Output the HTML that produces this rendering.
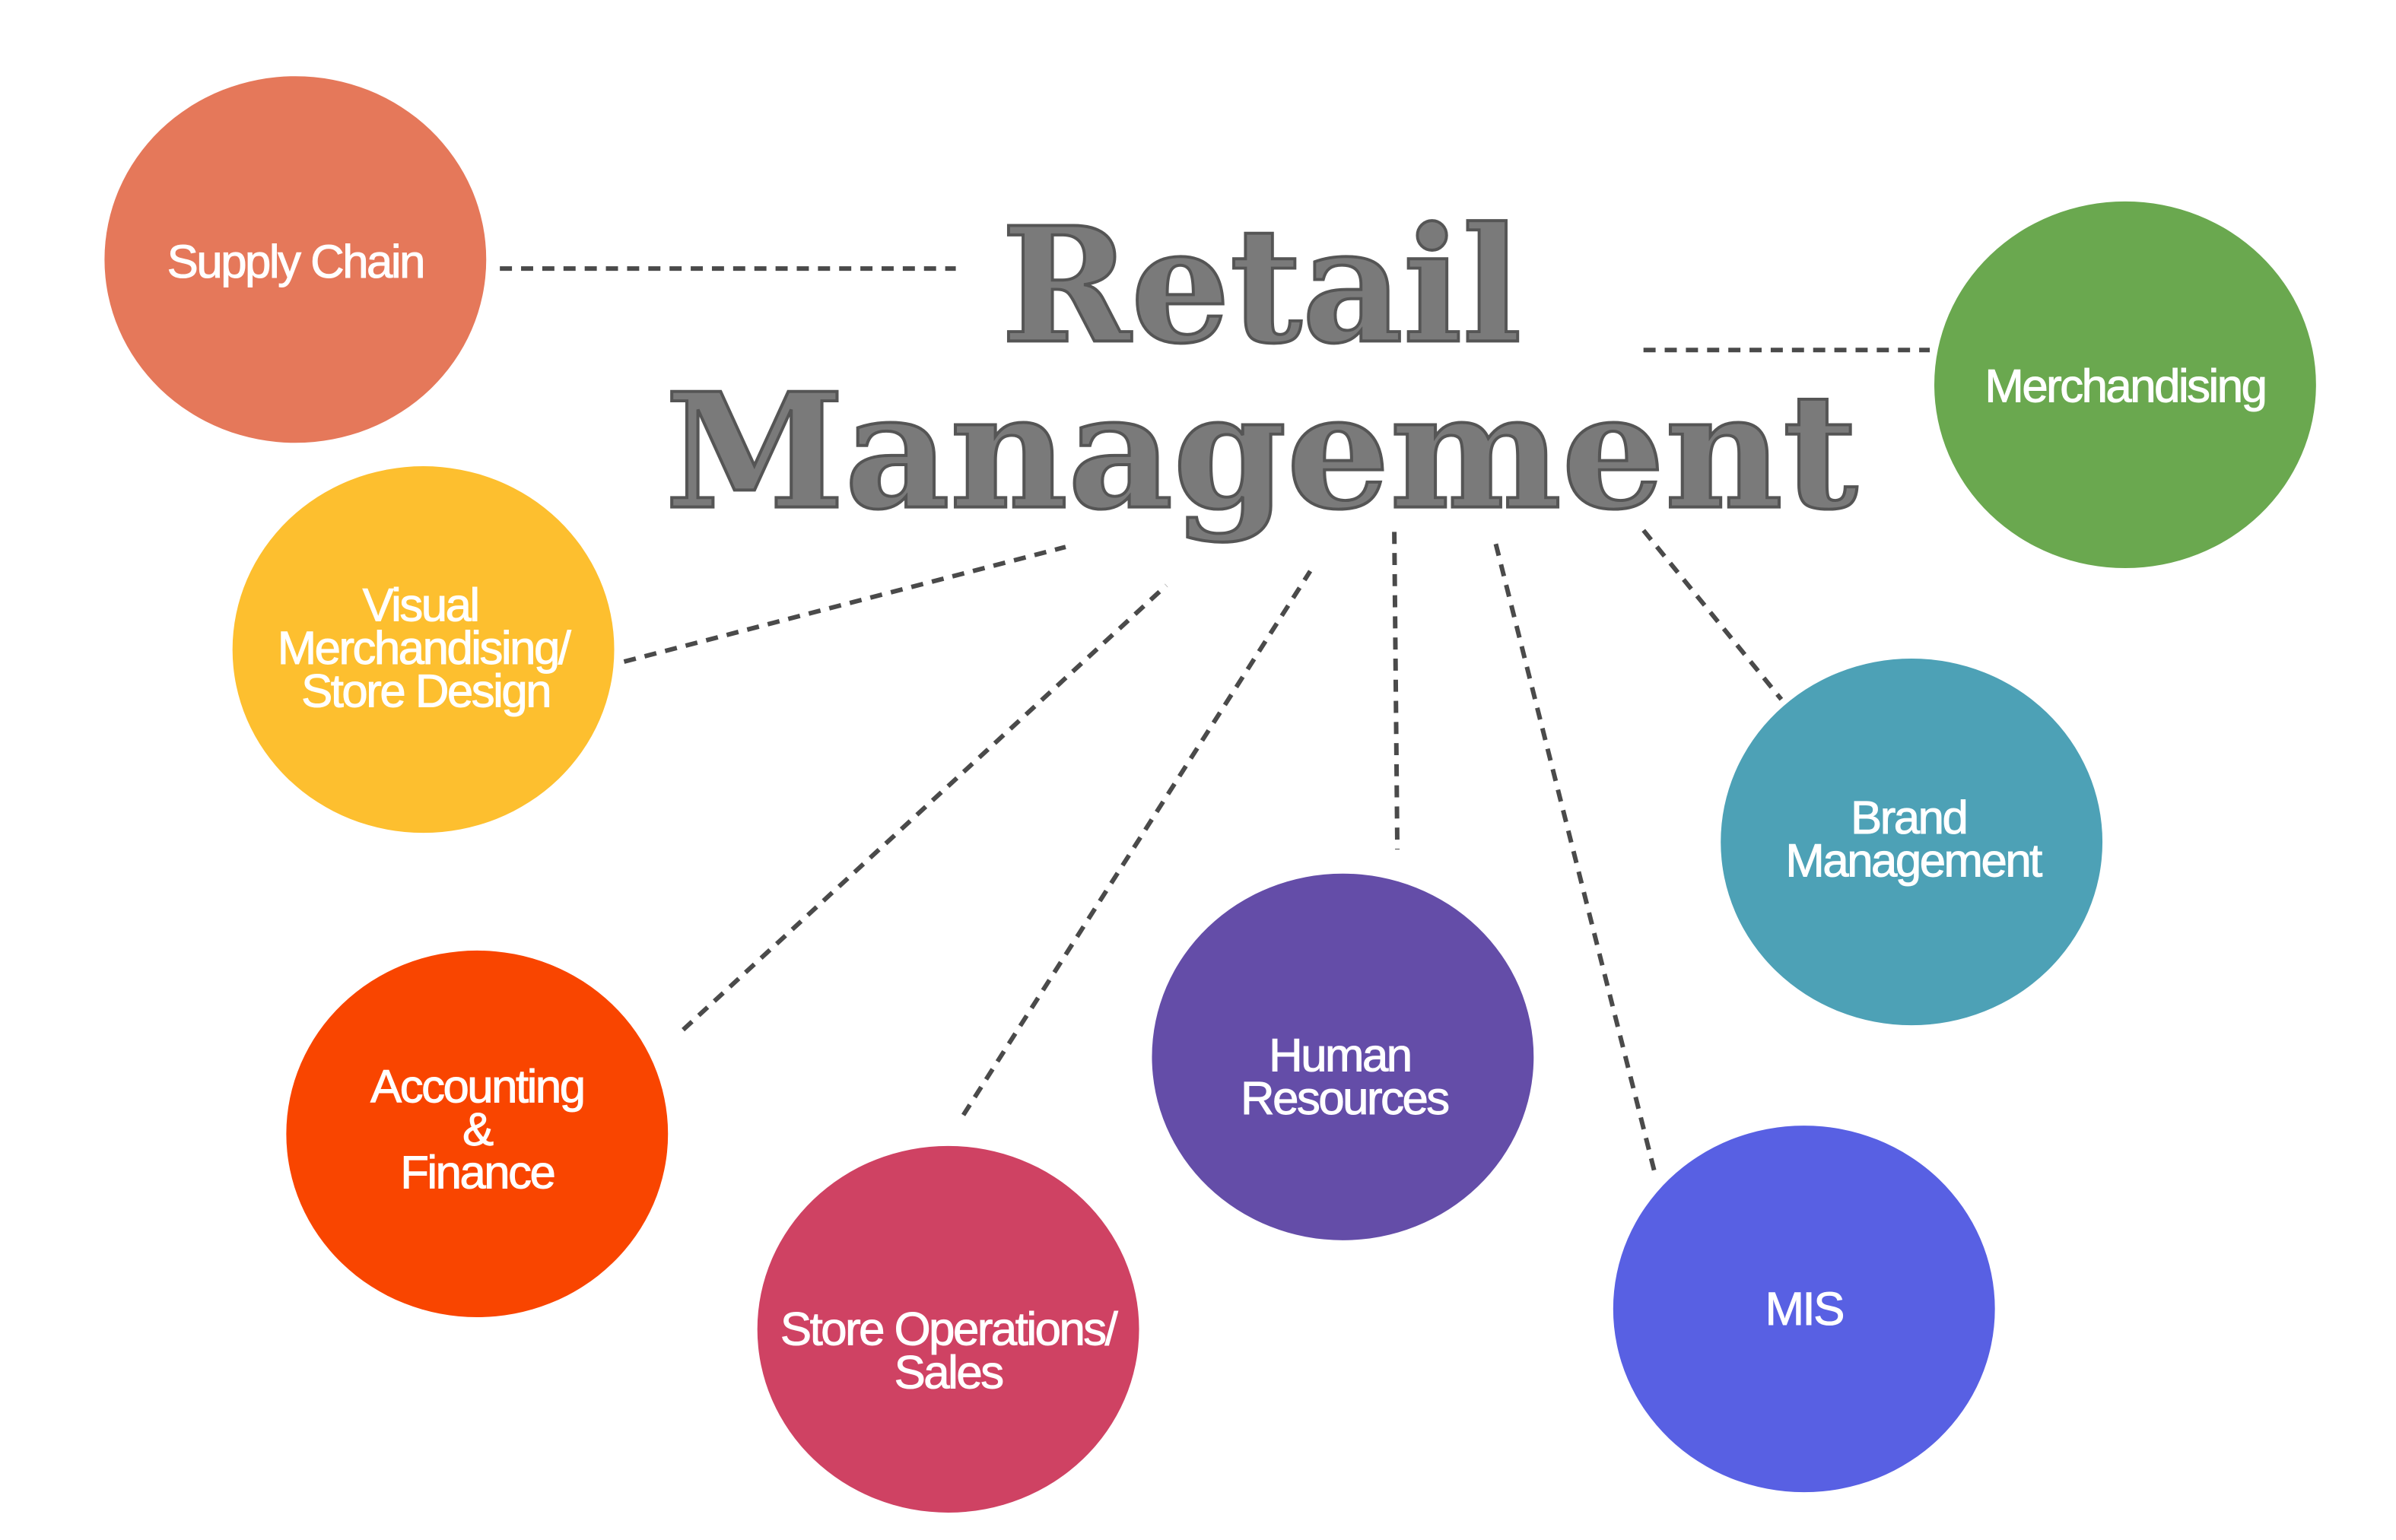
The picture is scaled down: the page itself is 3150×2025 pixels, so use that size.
<!DOCTYPE html>
<html><head><meta charset="utf-8"><style>html,body{margin:0;padding:0;background:#fff;}svg{display:block}</style></head>
<body>
<svg width="3150" height="2025" viewBox="0 0 3150 2025" xmlns="http://www.w3.org/2000/svg">
<g transform="scale(0.9957,0.992)">
<g stroke="#4a4a4a" stroke-width="6" stroke-dasharray="16 12" fill="none">
<line x1="660" y1="356" x2="1262" y2="356"/>
<line x1="2170" y1="464" x2="2548" y2="464"/>
<line x1="824" y1="877" x2="1407" y2="725"/>
<line x1="902" y1="1365" x2="1540" y2="776"/>
<line x1="1272" y1="1478" x2="1730" y2="757"/>
<line x1="1841" y1="705" x2="1845" y2="1126"/>
<line x1="1975" y1="721" x2="2185" y2="1555"/>
<line x1="2170" y1="703" x2="2352" y2="927"/>
</g>
<g>
<ellipse cx="390" cy="344" rx="252" ry="243" fill="#E5785A"/>
<ellipse cx="559" cy="861" rx="252" ry="243" fill="#FDBF2F"/>
<ellipse cx="630" cy="1503" rx="252" ry="243" fill="#F94500"/>
<ellipse cx="1252" cy="1762" rx="252" ry="243" fill="#CF4263"/>
<ellipse cx="1773" cy="1401" rx="252" ry="243" fill="#644DA8"/>
<ellipse cx="2382" cy="1735" rx="252" ry="243" fill="#5860E3"/>
<ellipse cx="2524" cy="1116" rx="252" ry="243" fill="#4DA1B6"/>
<ellipse cx="2806" cy="510" rx="252" ry="243" fill="#6AA84F"/>
</g>
<g font-family="Liberation Sans, Arial, sans-serif" font-size="62" fill="#fff" text-anchor="middle" letter-spacing="-2.5" stroke="#fff" stroke-width="1">
<text x="390" y="368">Supply Chain</text>
<text x="555" y="823">Visual</text>
<text x="559" y="880">Merchandising/</text>
<text x="562" y="937">Store Design</text>
<text x="630" y="1461">Accounting</text>
<text x="630" y="1518">&amp;</text>
<text x="630" y="1575">Finance</text>
<text x="1252" y="1783">Store Operations/</text>
<text x="1252" y="1840">Sales</text>
<text x="1769" y="1420">Human</text>
<text x="1775" y="1477">Resources</text>
<text x="2382" y="1756">MIS</text>
<text x="2520" y="1105">Brand</text>
<text x="2526" y="1162">Management</text>
<text x="2806" y="533">Merchandising</text>
</g>
<g font-family="DejaVu Serif, Liberation Serif, serif" font-weight="bold" font-size="210" fill="#7a7a7a" stroke="#555" stroke-width="4">
<text x="1322" y="452" textLength="687" lengthAdjust="spacingAndGlyphs">Retail</text>
<text x="878" y="672" textLength="1575" lengthAdjust="spacingAndGlyphs">Management</text>
</g>
</g>
</svg>
</body></html>
